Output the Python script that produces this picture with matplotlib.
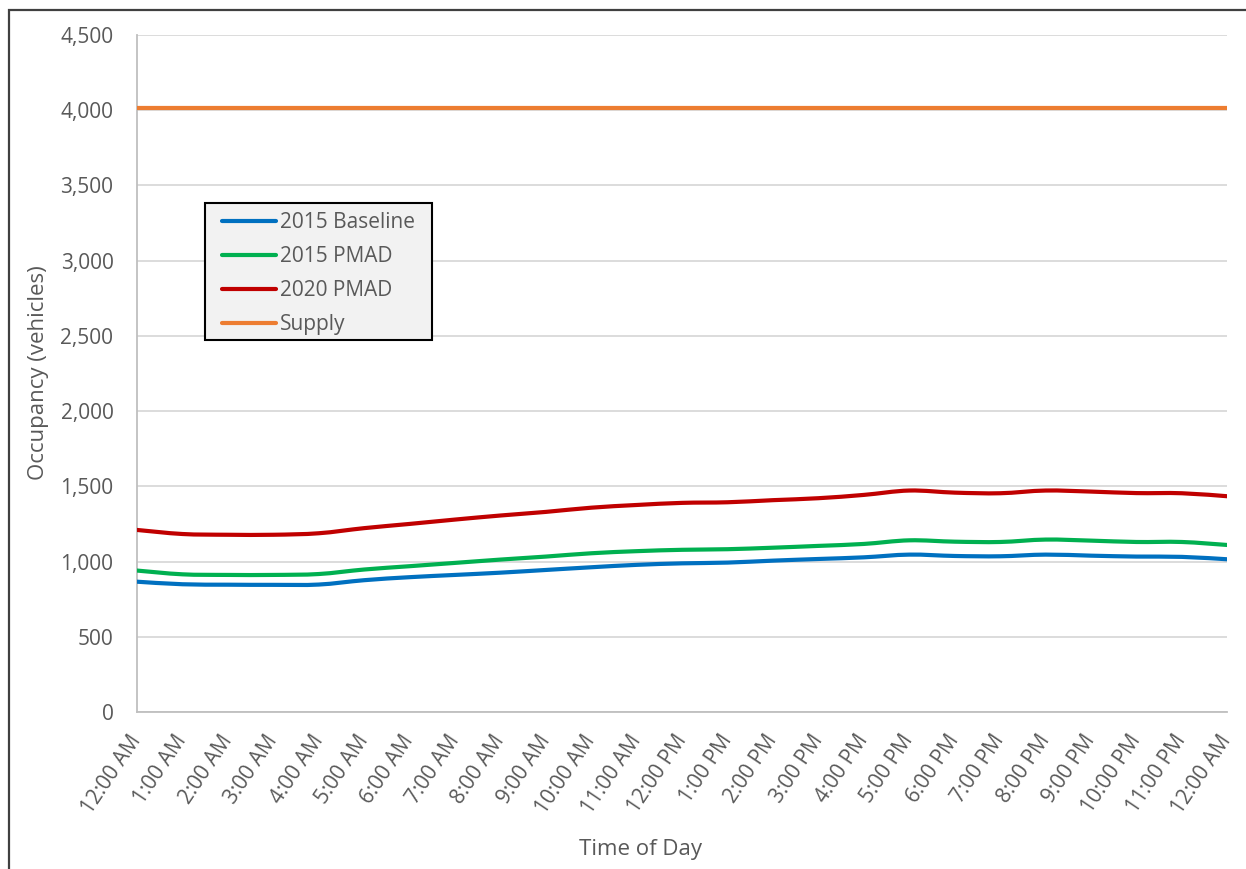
import numpy as np
import matplotlib.pyplot as plt
from matplotlib.path import Path
from matplotlib.patches import PathPatch, Rectangle
from matplotlib.lines import Line2D
from matplotlib.ticker import FuncFormatter
from matplotlib.transforms import ScaledTranslation

plt.rcParams["font.family"] = ["Open Sans", "DejaVu Sans"]

# ---------------------------------------------------------------
# Data (hourly occupancy, vehicles)
hours = ["12:00 AM", "1:00 AM", "2:00 AM", "3:00 AM", "4:00 AM", "5:00 AM",
         "6:00 AM", "7:00 AM", "8:00 AM", "9:00 AM", "10:00 AM", "11:00 AM",
         "12:00 PM", "1:00 PM", "2:00 PM", "3:00 PM", "4:00 PM", "5:00 PM",
         "6:00 PM", "7:00 PM", "8:00 PM", "9:00 PM", "10:00 PM", "11:00 PM",
         "12:00 AM"]

baseline_2015 = [866, 849, 846, 845, 847, 876, 896, 911, 926, 944, 962, 978,
                 988, 993, 1006, 1017, 1028, 1046, 1037, 1035, 1046, 1039,
                 1033, 1031, 1015]
pmad_2015 = [940, 915, 911, 911, 917, 947, 969, 991, 1013, 1033, 1055, 1069,
             1078, 1082, 1092, 1104, 1117, 1141, 1132, 1130, 1146, 1139,
             1130, 1130, 1110]
pmad_2020 = [1210, 1183, 1178, 1178, 1188, 1222, 1250, 1279, 1306, 1330, 1358,
             1376, 1390, 1394, 1408, 1421, 1443, 1472, 1458, 1454, 1472, 1465,
             1455, 1454, 1434]
supply = [4015] * 25

series = [
    ("2015 Baseline", baseline_2015, "#0070c0"),
    ("2015 PMAD", pmad_2015, "#00b050"),
    ("2020 PMAD", pmad_2020, "#c00000"),
    ("Supply", supply, "#ed7d31"),
]


def smooth_path(x, y):
    # cubic Bezier segments through every point (Catmull-Rom style tangents)
    pts = np.column_stack([x, y]).astype(float)
    n = len(pts)
    verts = [pts[0]]
    codes = [Path.MOVETO]
    for i in range(n - 1):
        p0 = pts[max(i - 1, 0)]
        p1 = pts[i]
        p2 = pts[i + 1]
        p3 = pts[min(i + 2, n - 1)]
        c1 = p1 + (p2 - p0) / 6.0
        c2 = p2 - (p3 - p1) / 6.0
        verts += [c1, c2, p2]
        codes += [Path.CURVE4] * 3
    return Path(verts, codes)


# ---------------------------------------------------------------
# Figure
fig = plt.figure(figsize=(12.46, 8.69), dpi=100)
ax = fig.add_axes([0.110, 0.1807, 0.875, 0.779])

x = np.arange(len(hours))
handles = []
for label, values, color in series:
    patch = PathPatch(smooth_path(x, values), fill=False, edgecolor=color,
                      lw=3, capstyle="round", joinstyle="round", zorder=3)
    ax.add_patch(patch)
    handles.append(Line2D([], [], color=color, lw=3, solid_capstyle="round"))

ax.set_xlim(0, 24)
ax.set_ylim(0, 4500)
ax.set_yticks(np.arange(0, 4501, 500))
ax.yaxis.set_major_formatter(FuncFormatter(lambda v, p: f"{int(v):,}"))
ax.set_xticks(x)
ax.set_xticklabels(hours, rotation=56, ha="right", va="center",
                   rotation_mode="anchor")
shift = ScaledTranslation(5 / 100, 0, fig.dpi_scale_trans)
for lbl in ax.get_xticklabels():
    lbl.set_transform(lbl.get_transform() + shift)

ax.grid(True, axis="y", color="#d9d9d9", lw=1.3)
ax.set_axisbelow(True)
for side in ["top", "right"]:
    ax.spines[side].set_visible(False)
for side in ["left", "bottom"]:
    ax.spines[side].set_color("#bfbfbf")
    ax.spines[side].set_linewidth(1.3)

ax.tick_params(axis="both", length=0, labelsize=15, labelcolor="#595959")
ax.tick_params(axis="y", pad=17)
ax.tick_params(axis="x", pad=18)

fig.text(0.514, 0.022, "Time of Day", fontsize=16, color="#595959",
         ha="center", va="center")
fig.text(0.031, 0.571, "Occupancy (vehicles)", fontsize=16, color="#595959",
         ha="center", va="center", rotation=90)

# legend box drawn separately, entries placed inside it
ax.add_patch(Rectangle((0.0624, 0.5495), 0.2083, 0.2024,
                       transform=ax.transAxes, facecolor="#f2f2f2",
                       edgecolor="black", lw=1.5, zorder=4))
leg = ax.legend(handles, [s[0] for s in series], loc="upper left",
                bbox_to_anchor=(0.078, 0.738), fontsize=15,
                labelcolor="#595959", frameon=False,
                handlelength=2.6, handletextpad=0.2, labelspacing=0.62,
                borderpad=0, borderaxespad=0)
leg.set_zorder(5)

# outer chart border
fig.patches.append(Rectangle((9 / 1246, -0.2), 2, 1.2 - 10 / 869,
                             transform=fig.transFigure, fill=False,
                             edgecolor="#404040", lw=1.6, clip_on=False))

fig.savefig("out.png", dpi=100)
